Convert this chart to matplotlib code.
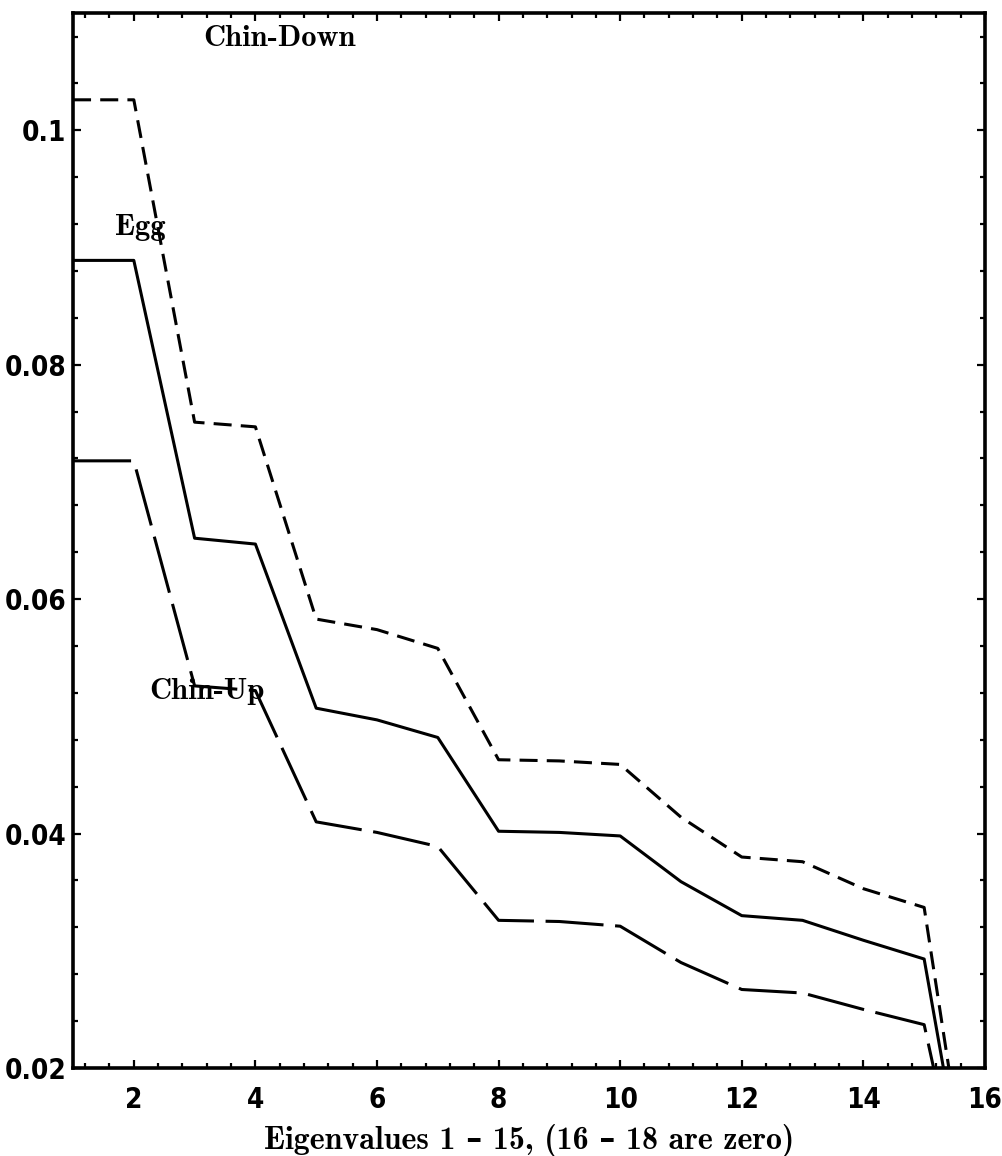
import numpy as np
import matplotlib.pyplot as plt
from matplotlib.ticker import MultipleLocator

# eigenvalues 1..18 for the three head poses (16-18 are zero)
idx = np.arange(1, 19)
chin_down = [0.1026, 0.1026, 0.0751, 0.0747, 0.0583, 0.0574, 0.0558, 0.0463,
             0.0462, 0.0459, 0.0414, 0.0380, 0.0376, 0.0353, 0.0337, 0.0, 0.0, 0.0]
egg = [0.0889, 0.0889, 0.0652, 0.0647, 0.0507, 0.0497, 0.0482, 0.0402,
       0.0401, 0.0398, 0.0359, 0.0330, 0.0326, 0.0309, 0.0293, 0.0, 0.0, 0.0]
chin_up = [0.0718, 0.0718, 0.0526, 0.0522, 0.0410, 0.0401, 0.0389, 0.0326,
           0.0325, 0.0321, 0.0290, 0.0267, 0.0264, 0.0250, 0.0237, 0.0, 0.0, 0.0]

xticks = [2, 4, 6, 8, 10, 12, 14, 16]
yticks = [0.02, 0.04, 0.06, 0.08, 0.1]
ytick_labels = ["0.02", "0.04", "0.06", "0.08", "0.1"]

serif = ["cmb10", "DejaVu Serif"]

fig = plt.figure(figsize=(10.03, 11.56), dpi=100)
ax = fig.add_axes([0.0728, 0.0761, 0.9092, 0.9126])

lw = 2.2
ax.plot(idx, chin_down, color="black", lw=lw, ls=(0, (5.9, 3.0)))
ax.plot(idx, egg, color="black", lw=lw)
ax.plot(idx, chin_up, color="black", lw=lw, ls=(0, (19.0, 3.8)))

ax.set_xlim(1, 16)
ax.set_ylim(0.02, 0.11)

# curve labels
ax.text(4.4, 0.1078, "Chin-Down", family=serif, fontsize=22, fontweight="bold",
        ha="center", va="center")
ax.text(2.1, 0.0917, "Egg", family=serif, fontsize=22, fontweight="bold",
        ha="center", va="center")
ax.text(3.2, 0.0521, "Chin-Up", family=serif, fontsize=22, fontweight="bold",
        ha="center", va="center")

ax.set_xticks(xticks)
ax.set_yticks(yticks)
ax.set_yticklabels(ytick_labels)
ax.xaxis.set_minor_locator(MultipleLocator(0.4))
ax.yaxis.set_minor_locator(MultipleLocator(0.004))

ax.tick_params(which="both", direction="in", top=True, right=True, width=1.6)
ax.tick_params(which="major", length=6)
ax.tick_params(which="minor", length=3.5)
ax.tick_params(axis="x", which="major", pad=13)
ax.tick_params(axis="y", which="major", pad=5)
for lab in ax.get_xticklabels() + ax.get_yticklabels():
    lab.set_family("DejaVu Sans")
    lab.set_fontstretch("condensed")
    lab.set_fontsize(20)
    lab.set_fontweight("bold")

for sp in ax.spines.values():
    sp.set_linewidth(2.6)

ax.set_xlabel("Eigenvalues 1 \u2013 15, (16 \u2013 18 are zero)", family=serif,
              fontsize=23, fontweight="bold", labelpad=7)

fig.savefig("out.png", dpi=100)
